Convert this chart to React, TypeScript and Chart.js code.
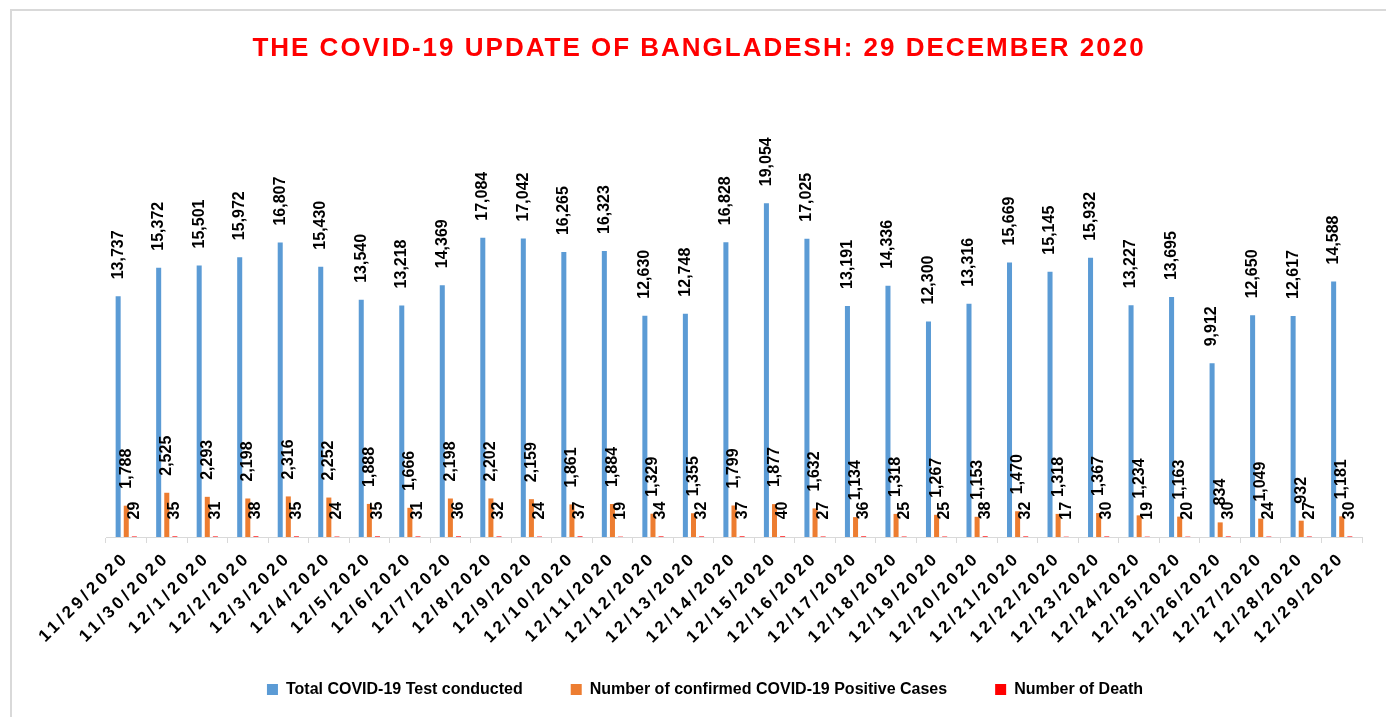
import React, { useEffect, useRef } from "react";
import {
  Chart,
  BarController,
  BarElement,
  CategoryScale,
  LinearScale,
  Legend,
} from "chart.js";

Chart.register(BarController, BarElement, CategoryScale, LinearScale, Legend);

const dates = [
  "11/29/2020", "11/30/2020", "12/1/2020", "12/2/2020", "12/3/2020", "12/4/2020",
  "12/5/2020", "12/6/2020", "12/7/2020", "12/8/2020", "12/9/2020", "12/10/2020",
  "12/11/2020", "12/12/2020", "12/13/2020", "12/14/2020", "12/15/2020", "12/16/2020",
  "12/17/2020", "12/18/2020", "12/19/2020", "12/20/2020", "12/21/2020", "12/22/2020",
  "12/23/2020", "12/24/2020", "12/25/2020", "12/26/2020", "12/27/2020", "12/28/2020",
  "12/29/2020",
];

const totalTests = [
  13737, 15372, 15501, 15972, 16807, 15430, 13540, 13218, 14369, 17084, 17042, 16265,
  16323, 12630, 12748, 16828, 19054, 17025, 13191, 14336, 12300, 13316, 15669, 15145,
  15932, 13227, 13695, 9912, 12650, 12617, 14588,
];

const positiveCases = [
  1788, 2525, 2293, 2198, 2316, 2252, 1888, 1666, 2198, 2202, 2159, 1861,
  1884, 1329, 1355, 1799, 1877, 1632, 1134, 1318, 1267, 1153, 1470, 1318,
  1367, 1234, 1163, 834, 1049, 932, 1181,
];

const deaths = [
  29, 35, 31, 38, 35, 24, 35, 31, 36, 32, 24, 37,
  19, 34, 32, 37, 40, 27, 36, 25, 25, 38, 32, 17,
  30, 19, 20, 30, 24, 27, 30,
];

const seriesNames = [
  "Total COVID-19 Test conducted",
  "Number of confirmed COVID-19 Positive Cases",
  "Number of Death",
];

const seriesColors = ["#5B9BD5", "#ED7D31", "#FF0000"];

const titleText = "THE COVID-19 UPDATE OF BANGLADESH: 29 DECEMBER 2020";

const fmt = (v: number) => v.toLocaleString("en-US");

const labelPlugin = {
  id: "barLabelsAndTitle",
  beforeDraw(chart: any) {
    chart.ctx.letterSpacing = "0px";
    // let the letter-spaced, rotated x labels run past the axis box
    const xs = chart.scales.x;
    if (xs) xs._computeLabelArea = () => undefined;
  },
  afterDatasetsDraw(chart: any) {
    const ctx = chart.ctx;
    ctx.save();
    ctx.font = "bold 16px 'Liberation Sans', Arial, sans-serif";
    ctx.fillStyle = "#000000";
    ctx.textAlign = "left";
    ctx.textBaseline = "middle";
    chart.data.datasets.forEach((ds: any, i: number) => {
      const meta = chart.getDatasetMeta(i);
      meta.data.forEach((el: any, j: number) => {
        const v = ds.data[j] as number;
        ctx.save();
        ctx.translate(el.x, el.y - 17);
        ctx.rotate(-Math.PI / 2);
        ctx.fillText(fmt(v), 0, 0);
        ctx.restore();
      });
    });
    ctx.restore();
    // letter spacing for the x-axis tick labels, drawn next (ticks z = 1)
    ctx.letterSpacing = "3.5px";
  },
  afterDraw(chart: any) {
    const ctx = chart.ctx;
    ctx.save();
    ctx.letterSpacing = "2px";
    ctx.font = "bold 26px 'Liberation Sans', Arial, sans-serif";
    ctx.fillStyle = "#FF0000";
    ctx.textAlign = "center";
    ctx.textBaseline = "middle";
    ctx.fillText(titleText, chart.width / 2 - 2, 38);
    ctx.restore();
    ctx.letterSpacing = "0px";
  },
};

export default function App() {
  const canvasRef = useRef<HTMLCanvasElement | null>(null);

  useEffect(() => {
    if (!canvasRef.current) return;
    const values = [totalTests, positiveCases, deaths];
    const chart = new Chart(canvasRef.current, {
      type: "bar",
      data: {
        labels: dates,
        datasets: values.map((arr, i) => ({
          label: seriesNames[i],
          data: arr,
          backgroundColor: seriesColors[i],
          borderWidth: 0,
          categoryPercentage: 0.6,
          barPercentage: 0.62,
        })),
      },
      options: {
        animation: false,
        responsive: true,
        maintainAspectRatio: false,
        layout: { padding: { top: 88, left: 36, right: 28, bottom: 9.5 } },
        plugins: {
          legend: {
            position: "bottom",
            labels: {
              boxWidth: 11,
              boxHeight: 11,
              padding: 48,
              color: "#000000",
              font: { family: "'Liberation Sans', Arial, sans-serif", size: 16, weight: "bold" },
            },
          },
          tooltip: { enabled: false },
        },
        scales: {
          x: {
            grid: {
              offset: true,
              drawOnChartArea: false,
              drawTicks: true,
              tickLength: 6,
              color: "#D9D9D9",
            },
            border: { color: "#D9D9D9", width: 1 },
            ticks: {
              z: 1,
              autoSkip: false,
              minRotation: 45,
              maxRotation: 45,
              padding: 5,
              color: "#000000",
              font: { family: "'Liberation Sans', Arial, sans-serif", size: 17, weight: "bold" },
            },
            afterFit: (scale: any) => {
              scale.height = 96.5;
            },
          },
          y: {
            display: true,
            min: 0,
            max: 25000,
            grid: { display: false },
            border: { display: false },
            ticks: { display: false },
            afterFit: (scale: any) => {
              scale.width = 58;
            },
          },
        },
      },
      plugins: [labelPlugin],
    } as any);
    return () => chart.destroy();
  }, []);

  return (
    <div
      style={{
        marginLeft: 2,
        marginTop: 1,
        width: 1378,
        height: 706,
        border: "2px solid #D9D9D9",
        borderBottom: "none",
        position: "relative",
        background: "#ffffff",
      }}
    >
      <canvas ref={canvasRef} />
    </div>
  );
}
